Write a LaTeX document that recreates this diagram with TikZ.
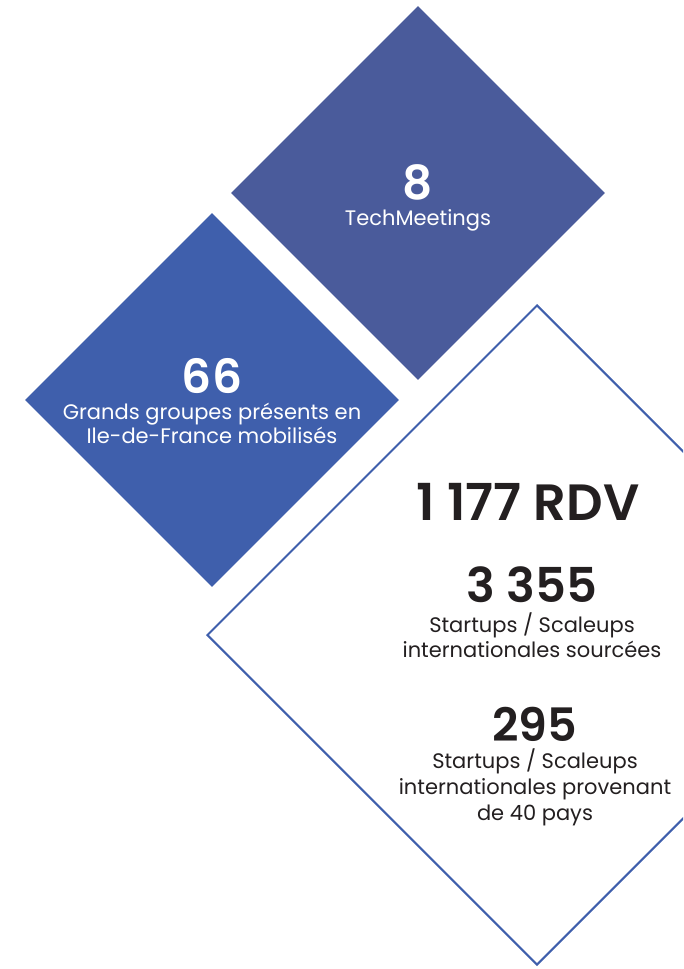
\documentclass[tikz,border=0pt]{standalone}
\usepackage{fontspec}
\setmainfont{Poppins}
\newfontfamily\numfont{Poppins}[UprightFont=* SemiBold]
\usetikzlibrary{shapes.geometric,positioning}
\definecolor{indigoTM}{HTML}{4A5B9B}
\definecolor{blueGG}{HTML}{3F5FAC}
\definecolor{inkTxt}{HTML}{231F20}
\tikzstyle{tile}=[diamond,aspect=1,inner sep=0pt,minimum width=374pt,minimum height=374pt]
\tikzstyle{bignum}=[font=\fontsize{47}{47}\selectfont\numfont,inner sep=0pt,text depth=0pt,anchor=base]
\tikzstyle{caption}=[font=\fontsize{21}{24}\selectfont,align=center,inner sep=0pt,anchor=base]

\begin{document}
\begin{tikzpicture}[x=1pt,y=-1pt]
\useasboundingbox (0,0) rectangle (683,969);
\clip (0,0) rectangle (683,969);

%tiles
\node[tile,fill=indigoTM] (tm) at (418,193) {};
\node[tile,fill=blueGG] (gg) at (212,400) {};
\node[tile,draw=blueGG,line width=2pt,minimum width=660pt,minimum height=660pt] (rdv) at (537,635) {};

%TechMeetings
\node[bignum,white] (tmnum) at (418,199) {8};
\node[caption,white] (tmtxt) at (418,225) {TechMeetings};

%Grands groupes (base = last line)
\node[bignum,white] (ggnum) at (212,393) {66};
\node[caption,white] (ggtxt) at (212,443) {Grands groupes présents en\\Ile-de-France mobilisés};

%RDV
\node[bignum,inkTxt,font=\fontsize{51}{51}\selectfont\numfont] (rdvnum) at (528,520) {1 177 RDV};

\node[bignum,inkTxt,font=\fontsize{48}{48}\selectfont\numfont] (sunum) at (532,602) {3 355};
\node[caption,inkTxt,font=\fontsize{21}{25}\selectfont] (sutxt) at (532,657) {Startups / Scaleups\\internationales sourcées};

\node[bignum,inkTxt,font=\fontsize{46}{46}\selectfont\numfont] (pnum) at (535,741) {295};
\node[caption,inkTxt,font=\fontsize{21}{26}\selectfont] (ptxt) at (535,820) {Startups / Scaleups\\internationales provenant\\de 40 pays};

\end{tikzpicture}
\end{document}
